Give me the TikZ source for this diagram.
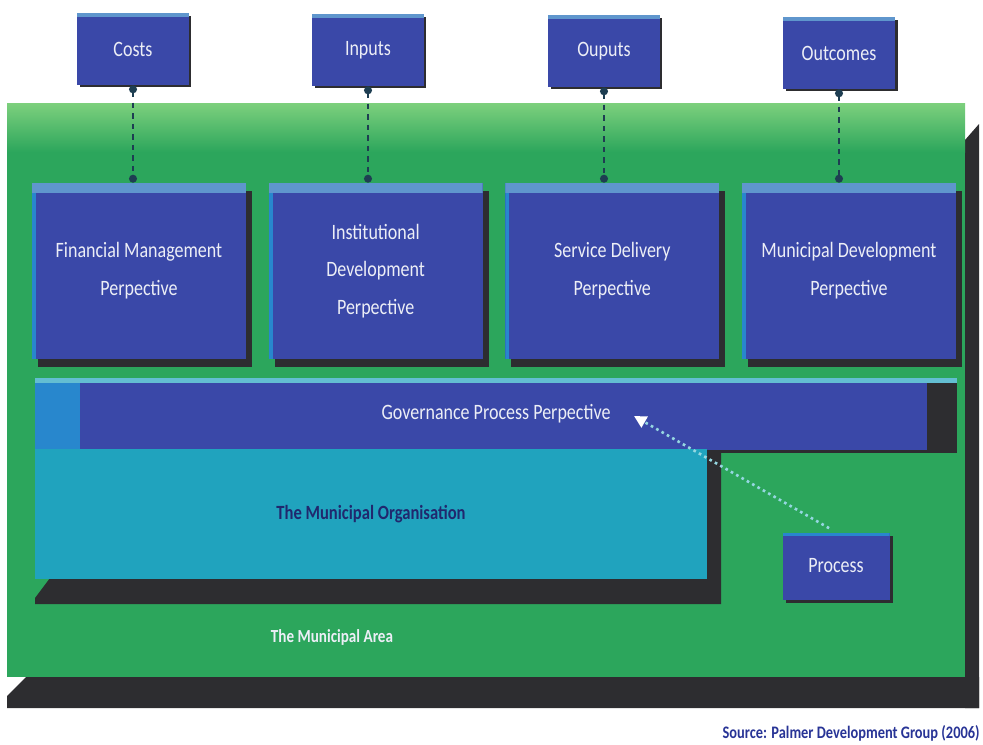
\documentclass[tikz,border=0pt]{standalone}
\usepackage{fontspec}
\setmainfont{Carlito}[FakeStretch=0.82]
\usetikzlibrary{positioning,shadows,arrows.meta,calc}

\definecolor{panelgreen}{RGB}{44,166,92}
\definecolor{lightgreen}{RGB}{125,208,125}
\definecolor{boxblue}{RGB}{58,72,168}
\definecolor{stripblue}{RGB}{95,150,205}
\definecolor{edgeblue}{RGB}{40,135,205}
\definecolor{orgcyan}{RGB}{32,163,190}
\definecolor{darkshade}{RGB}{45,45,48}
\definecolor{labelwhite}{RGB}{236,238,246}
\definecolor{navytext}{RGB}{32,40,110}
\definecolor{sourceblue}{RGB}{40,52,150}
\definecolor{linkteal}{RGB}{30,62,82}
\definecolor{linkcyan}{RGB}{150,215,225}

\begin{document}
\begin{tikzpicture}[
    x=0.02cm, y=-0.02cm,
    topbox/.style={rectangle, fill=boxblue, minimum width=2.24cm, minimum height=1.44cm,
      text=labelwhite, font=\fontsize{12.5}{15}\selectfont,
      drop shadow={shadow xshift=0.05cm, shadow yshift=-0.05cm, fill=darkshade, opacity=1},
      path picture={\fill[stripblue] (path picture bounding box.north west) rectangle ([yshift=-0.07cm]path picture bounding box.north east);}},
    persp/.style={rectangle, fill=boxblue, minimum width=4.28cm, minimum height=3.52cm,
      text=labelwhite, align=center, font=\fontsize{12.5}{21.5}\selectfont,
      drop shadow={shadow xshift=0.12cm, shadow yshift=-0.16cm, fill=darkshade, opacity=1},
      path picture={\fill[edgeblue] (path picture bounding box.north west) rectangle ([xshift=0.08cm]path picture bounding box.south west);
        \fill[stripblue] (path picture bounding box.north west) rectangle ([yshift=-0.2cm]path picture bounding box.north east);}},
    govbar/.style={rectangle, fill=boxblue, minimum width=18.46cm, minimum height=1.44cm,
      text=labelwhite, font=\fontsize{12.5}{15}\selectfont,
      drop shadow={shadow xshift=0cm, shadow yshift=-0.05cm, fill=darkshade, opacity=1},
      path picture={\fill[edgeblue] (path picture bounding box.north west) rectangle ([xshift=0.9cm]path picture bounding box.south west);
        \fill[darkshade] (path picture bounding box.north east) rectangle ([xshift=-0.6cm]path picture bounding box.south east);
        \fill[orgcyan!70!white] (path picture bounding box.north west) rectangle ([yshift=-0.1cm]path picture bounding box.north east);}},
    orgbox/.style={rectangle, fill=orgcyan, minimum width=13.44cm, minimum height=2.6cm,
      text=navytext, font=\bfseries\fontsize{11.5}{14}\selectfont},
    procbox/.style={rectangle, fill=boxblue, minimum width=2.14cm, minimum height=1.34cm,
      text=labelwhite, font=\fontsize{12.5}{15}\selectfont,
      drop shadow={shadow xshift=0.06cm, shadow yshift=-0.06cm, fill=darkshade, opacity=1},
      path picture={\fill[edgeblue] (path picture bounding box.north west) rectangle ([yshift=-0.06cm]path picture bounding box.north east);}},
    arealabel/.style={text=labelwhite, font=\bfseries\fontsize{10.5}{13}\selectfont},
    sourcelabel/.style={text=sourceblue, font=\bfseries\fontsize{10}{12}\selectfont, inner sep=0pt},
    conn/.style={draw=linkteal, line width=1.2pt, dashed, {Circle[length=4.5pt]}-{Circle[length=4.5pt]}},
    proclink/.style={draw=linkcyan, line width=1.5pt, dotted, -{Triangle[color=white, length=7pt, width=7pt]}}
]
\useasboundingbox (0,0) rectangle (983,744);

% Municipal area panel
\fill[darkshade] (965,140) -- (979,124) -- (979,708) -- (965,708) -- cycle;
\fill[darkshade] (7,708) -- (7,696) -- (26,677) -- (979,677) -- (979,708) -- cycle;
\fill[panelgreen] (7,103) rectangle (965,677);
\shade[top color=lightgreen, bottom color=panelgreen] (7,103) rectangle (965,152);

% shadow of the organisation block
\fill[darkshade] (35,598) -- (50,578) -- (707,578) -- (707,452) -- (721,452) -- (721,604) -- (35,604) -- cycle;

% Measures
\node (costs) [topbox] at (133,49) {Costs};
\node (inputs) [topbox] at (368,50) {Inputs};
\node (outputs) [topbox] at (604,51) {Ouputs};
\node (outcomes) [topbox] at (839,53) {Outcomes};

% Perspectives
\node (fin) [persp] at (139,271) {Financial Management\\Perpective};
\node (inst) [persp, right=0.44cm of fin] {Institutional\\Development\\Perpective};
\node (serv) [persp, right=0.44cm of inst] {Service Delivery\\Perpective};
\node (mundev) [persp, right=0.44cm of serv] {Municipal Development\\Perpective};

\node (gov) [govbar] at (496,414) {Governance Process Perpective};
\node (org) [orgbox] at (371,514) {The Municipal Organisation};
\node (proc) [procbox] at (836,566) {Process};

% Labels
\node (area) [arealabel] at (332,637) {The Municipal Area};
\node (source) [sourcelabel, anchor=east] at (980,733) {Source: Palmer Development Group (2006)};

% Connections
\draw[conn] (costs.south) -- (costs.south |- fin.north);
\draw[conn] (inputs.south) -- (inputs.south |- inst.north);
\draw[conn] (outputs.south) -- (outputs.south |- serv.north);
\draw[conn] (outcomes.south) -- (outcomes.south |- mundev.north);

\coordinate (govtip) at (634,416);
\draw[proclink, shorten <=0.16cm] (proc.north) -- (govtip);

\end{tikzpicture}
\end{document}
